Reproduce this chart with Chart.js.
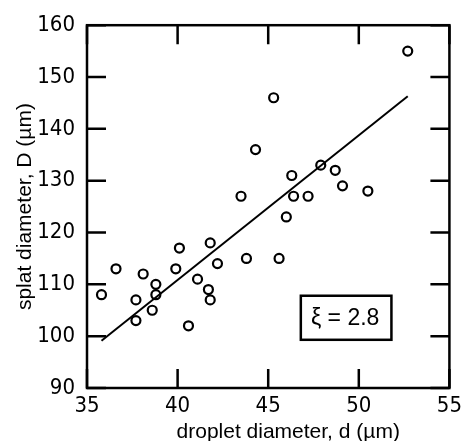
<!DOCTYPE html>
<html>
<head>
<meta charset="utf-8">
<script src="https://cdn.jsdelivr.net/npm/chart.js@4"></script>
<style>
  html, body { margin: 0; padding: 0; background: #fff; }
  #chart { display: block; }
</style>
</head>
<body>
<canvas id="chart" width="467" height="441"></canvas>
<script>
// droplet diameter d (um) vs splat diameter D (um)
var dropletD = [35.8, 36.6, 37.7, 37.7, 38.1, 38.8, 38.8, 38.6, 39.9, 40.1,
                40.6, 41.1, 41.8, 41.7, 41.8, 42.2, 43.8, 43.5, 44.3, 45.3,
                45.6, 46.0, 46.3, 46.4, 47.2, 47.9, 48.7, 49.1, 50.5, 52.7];
var splatD = [108, 113, 107, 103, 112, 110, 108, 105, 113, 117,
              102, 111, 118, 109, 107, 114, 115, 127, 136, 146,
              115, 123, 131, 127, 127, 133, 132, 129, 128, 155];

// fitted line end points
var fitX = [35.8, 52.7];
var fitY = [99.1, 146.3];

var xTitle = "droplet diameter, d (\u00b5m)";
var yTitle = "splat diameter, D (\u00b5m)";
var noteText = "\u03be = 2.8";
// note box corners in data units
var noteX = [46.8, 51.8];
var noteY = [99.3, 107.8];

var narrow = "'Liberation Sans Narrow', 'DejaVu Sans Condensed', 'Liberation Sans', Arial, sans-serif";
var sans = "'Liberation Sans', Arial, Helvetica, sans-serif";

var framePlugin = {
  id: "frame",
  afterDraw: function (chart) {
    var ctx = chart.ctx;
    var a = chart.chartArea;
    var xs = chart.scales.x, ys = chart.scales.y;
    var tl = 19;
    ctx.save();
    ctx.strokeStyle = "#000";
    ctx.lineWidth = 2.5;
    ctx.strokeRect(a.left, a.top, a.right - a.left, a.bottom - a.top);

    // inward ticks on all four sides
    ctx.beginPath();
    xs.ticks.forEach(function (t) {
      var px = xs.getPixelForValue(t.value);
      ctx.moveTo(px, a.bottom); ctx.lineTo(px, a.bottom - tl);
      ctx.moveTo(px, a.top); ctx.lineTo(px, a.top + tl);
    });
    ys.ticks.forEach(function (t) {
      var py = ys.getPixelForValue(t.value);
      ctx.moveTo(a.left, py); ctx.lineTo(a.left + tl, py);
      ctx.moveTo(a.right, py); ctx.lineTo(a.right - tl, py);
    });
    ctx.stroke();

    // note box
    var bx1 = xs.getPixelForValue(noteX[0]), bx2 = xs.getPixelForValue(noteX[1]);
    var by1 = ys.getPixelForValue(noteY[1]), by2 = ys.getPixelForValue(noteY[0]);
    ctx.fillStyle = "#fff";
    ctx.fillRect(bx1, by1, bx2 - bx1, by2 - by1);
    ctx.strokeRect(bx1, by1, bx2 - bx1, by2 - by1);
    ctx.fillStyle = "#000";
    ctx.font = "23px " + sans;
    ctx.textAlign = "center";
    ctx.textBaseline = "middle";
    ctx.fillText(noteText, (bx1 + bx2) / 2 - 1, (by1 + by2) / 2 + 1);

    // axis titles
    ctx.font = "21px " + sans;
    ctx.textBaseline = "alphabetic";
    ctx.fillText(xTitle, (a.left + a.right) / 2 + 20, 438);
    ctx.translate(31, (a.top + a.bottom) / 2);
    ctx.rotate(-Math.PI / 2);
    ctx.fillText(yTitle, 0, 0);
    ctx.restore();
  }
};

var ctxS = document.getElementById("chart").getContext("2d");
window.splatChart = new Chart(ctxS, {
  type: "scatter",
  data: {
    datasets: [
      {
        type: "line",
        label: "fit",
        data: fitX.map(function (x, i) { return { x: x, y: fitY[i] }; }),
        borderColor: "#000",
        borderWidth: 2,
        pointRadius: 0,
        fill: false,
        tension: 0
      },
      {
        label: "data",
        data: dropletD.map(function (x, i) { return { x: x, y: splatD[i] }; }),
        borderColor: "#000",
        backgroundColor: "rgba(0,0,0,0)",
        borderWidth: 2.2,
        pointRadius: 4.5
      }
    ]
  },
  options: {
    responsive: false,
    animation: false,
    layout: { padding: { top: 20, right: 11, left: 0, bottom: 0 } },
    plugins: { legend: { display: false }, tooltip: { enabled: false } },
    scales: {
      x: {
        type: "linear",
        min: 35,
        max: 55,
        grid: { display: false, drawTicks: false },
        border: { display: false },
        ticks: { stepSize: 5, color: "#000", padding: 5, maxRotation: 0,
                 font: { family: narrow, size: 22 } },
        afterFit: function (s) { s.height = 53; }
      },
      y: {
        min: 90,
        max: 160,
        grid: { display: false, drawTicks: false },
        border: { display: false },
        ticks: { stepSize: 10, color: "#000", padding: 12,
                 font: { family: narrow, size: 22 } },
        afterFit: function (s) { s.width = 87; }
      }
    }
  },
  plugins: [framePlugin]
});
</script>
</body>
</html>
